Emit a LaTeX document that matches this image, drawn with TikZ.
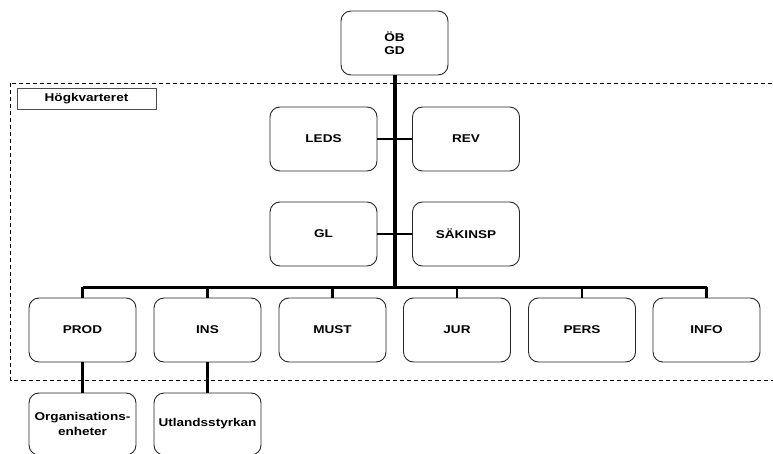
\documentclass[tikz,border=0pt]{standalone}
\usepackage{fontspec}
\setmainfont{Liberation Sans}[FakeStretch=1.2]
\begin{document}
\begin{tikzpicture}[x=1pt,y=-1pt,
  unit/.style={draw=black!85, line width=0.9pt, rounded corners=10pt, fill=white,
    minimum width=107pt, minimum height=64pt, inner sep=1pt, align=center,
    font=\fontsize{11.3}{15.5}\selectfont\bfseries},
  trunk/.style={line width=4pt},
  bus/.style={line width=3pt},
  stub/.style={line width=2.5pt},
  side/.style={line width=2pt}]
\useasboundingbox (0,0) rectangle (773,454);

% headquarters boundary and its label
\draw[line width=0.9pt, dash pattern=on 4pt off 3pt] (10.5,83) rectangle (780,380);
\node[draw=black!70, line width=0.8pt, minimum width=139pt, minimum height=21pt, inner sep=0pt,
  font=\fontsize{11.3}{13}\selectfont\bfseries] (hkv) at (86.5,98.5) {Högkvarteret};

% top unit
\node[unit, font=\fontsize{11.3}{13.5}\selectfont\bfseries] (ob) at (394.5,43) {ÖB\\GD};

% staff units beside the trunk
\node[unit] (leds) at (323.5,139) {LEDS};
\node[unit] (rev) at (466,139) {REV};
\node[unit] (gl) at (323.5,234) {GL};
\node[unit] (sak) at (466,234) {SÄKINSP};

% departments
\node[unit] (prod) at (82.5,330) {PROD};
\node[unit] (ins) at (207.5,330) {INS};
\node[unit] (must) at (332.5,330) {MUST};
\node[unit] (jur) at (457,330) {JUR};
\node[unit] (pers) at (582,330) {PERS};
\node[unit] (info) at (706.5,330) {INFO};

% subordinate units
\node[unit, minimum height=62pt] (org) at (82.5,424) {Organisations-\\enheter};
\node[unit, minimum height=62pt] (utl) at (207.5,424) {Utlandsstyrkan};

% connectors
\coordinate (busmid) at (394.5,287);
\draw[side] (leds.east) -- (rev.west);
\draw[side] (gl.east) -- (sak.west);
\draw[bus] (prod.north |- busmid) -- (info.north |- busmid);
\draw[trunk] (ob.south) -- (busmid);
\foreach \n in {prod,ins,must,jur,pers,info}
  \draw[stub] (\n.north |- busmid) -- (\n.north);
\draw[stub] (prod.south) -- (org.north);
\draw[stub] (ins.south) -- (utl.north);
\end{tikzpicture}
\end{document}
